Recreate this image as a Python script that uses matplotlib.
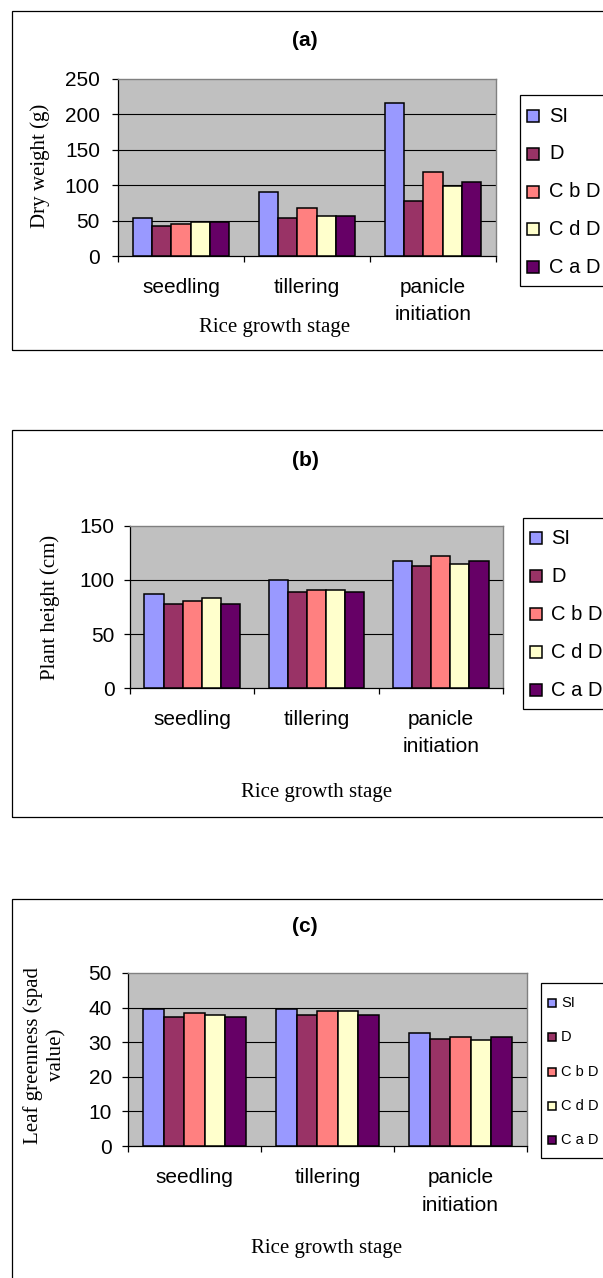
import matplotlib
matplotlib.use("Agg")
import matplotlib.pyplot as plt
from matplotlib.patches import Rectangle
import numpy as np

# ---------------- data ----------------
stages = ["seedling", "tillering", "panicle\ninitiation"]
series = ["SI", "D", "C b D", "C d D", "C a D"]
colors = ["#9999FF", "#993366", "#FF8080", "#FFFFCC", "#660066"]

dry_weight = {
    "SI":    [54, 91, 216],
    "D":     [42, 54, 77],
    "C b D": [45, 68, 119],
    "C d D": [48, 57, 99],
    "C a D": [48, 57, 105],
}
plant_height = {
    "SI":    [87, 100, 118],
    "D":     [78, 89, 113],
    "C b D": [81, 91, 122],
    "C d D": [83, 91, 115],
    "C a D": [78, 89, 118],
}
leaf_green = {
    "SI":    [39.5, 39.5, 32.6],
    "D":     [37.2, 37.9, 31.0],
    "C b D": [38.4, 38.9, 31.5],
    "C d D": [37.8, 38.9, 30.5],
    "C a D": [37.2, 37.9, 31.5],
}
yticks_a = [0, 50, 100, 150, 200, 250]
yticks_b = [0, 50, 100, 150]
yticks_c = [0, 10, 20, 30, 40, 50]

# ---------------- layout helpers ----------------
W, H = 603, 1278
fig = plt.figure(figsize=(W / 100, H / 100), dpi=100)
fig.patch.set_facecolor("white")

SANS = ["Liberation Sans", "DejaVu Sans"]
SERIF = ["Liberation Serif", "DejaVu Serif"]


def fx(x):
    return x / W


def fy(y):
    return 1 - y / H


def panel_box(left, top, right, bottom):
    fig.patches.append(Rectangle((fx(left), fy(bottom)), fx(right) - fx(left),
                                 (bottom - top) / H, transform=fig.transFigure,
                                 fill=False, edgecolor="black", linewidth=0.9))


def make_axes(l, t, r, b, data, yticks, label_pad, ytick_pad, linespacing):
    ax = fig.add_axes([fx(l), fy(b), fx(r) - fx(l), (b - t) / H])
    ax.set_facecolor("#C0C0C0")
    x = np.arange(len(stages))
    n = len(series)
    bw = 0.767 / n
    for i, s in enumerate(series):
        ax.bar(x + (i - (n - 1) / 2) * bw, data[s], width=bw, color=colors[i],
               edgecolor="black", linewidth=1.1, zorder=3)
    ax.set_xlim(-0.5, len(stages) - 0.5)
    ax.set_ylim(yticks[0], yticks[-1])
    ax.set_yticks(yticks)
    ax.set_yticklabels([str(v) for v in yticks], family=SANS, fontsize=15)
    ax.set_xticks(x)
    ax.set_xticklabels(stages, family=SANS, fontsize=15)
    for lbl in ax.get_xticklabels():
        lbl.set_linespacing(linespacing)
    ax.set_xticks(np.arange(len(stages) + 1) - 0.5, minor=True)
    ax.tick_params(axis="x", which="major", length=0, pad=label_pad)
    ax.tick_params(axis="x", which="minor", length=4.5, width=0.9, direction="out",
                   color="black")
    ax.tick_params(axis="y", length=4, width=0.9, direction="out", pad=ytick_pad,
                   color="black")
    for yv in yticks[1:-1]:
        ax.axhline(yv, color="black", linewidth=0.8, zorder=1)
    ax.spines["left"].set_color("black")
    ax.spines["bottom"].set_color("black")
    ax.spines["left"].set_linewidth(0.9)
    ax.spines["bottom"].set_linewidth(0.9)
    ax.spines["top"].set_color("#808080")
    ax.spines["right"].set_color("#808080")
    ax.spines["top"].set_linewidth(1.0)
    ax.spines["right"].set_linewidth(1.0)
    return ax


def legend(left, top, bottom, first_y, step, msize, text_x, fontsize):
    fig.patches.append(Rectangle((fx(left), fy(bottom)), fx(700) - fx(left),
                                 (bottom - top) / H, transform=fig.transFigure,
                                 facecolor="white", edgecolor="black", linewidth=0.9))
    mx = left + 7
    for i, s in enumerate(series):
        yc = first_y + i * step
        fig.patches.append(Rectangle((fx(mx), fy(yc + msize / 2)), msize / W, msize / H,
                                     transform=fig.transFigure, facecolor=colors[i],
                                     edgecolor="black", linewidth=1.1))
        fig.text(fx(text_x), fy(yc), s, family=SANS, fontsize=fontsize,
                 ha="left", va="center")


# ---------------- panel (a) ----------------
panel_box(12, 11, 700, 350)
make_axes(118, 79, 496, 256, dry_weight, yticks_a, label_pad=16, ytick_pad=9,
          linespacing=1.55)
fig.text(fx(305), fy(40), "(a)", family=SANS, fontsize=15, fontweight="bold",
         ha="center", va="center")
fig.text(fx(40), fy(166), "Dry weight (g)", family=SERIF, fontsize=15,
         rotation=90, ha="center", va="center")
fig.text(fx(275), fy(328), "Rice growth stage", family=SERIF, fontsize=15,
         ha="center", va="center")
legend(520, 95, 286, 116, 37.8, 12, 549, 14.5)

# ---------------- panel (b) ----------------
panel_box(12, 430, 700, 817)
make_axes(130, 526, 503, 688, plant_height, yticks_b, label_pad=16, ytick_pad=7,
          linespacing=1.5)
fig.text(fx(305), fy(460), "(b)", family=SANS, fontsize=15, fontweight="bold",
         ha="center", va="center")
fig.text(fx(50), fy(607), "Plant height (cm)", family=SERIF, fontsize=15,
         rotation=90, ha="center", va="center")
fig.text(fx(317), fy(792), "Rice growth stage", family=SERIF, fontsize=15,
         ha="center", va="center")
legend(523, 518, 709, 538, 38, 12, 551, 14.5)

# ---------------- panel (c) ----------------
panel_box(12, 899, 700, 1300)
make_axes(128, 973, 527, 1146, leaf_green, yticks_c, label_pad=16, ytick_pad=7.5,
          linespacing=1.6)
fig.text(fx(305), fy(927), "(c)", family=SANS, fontsize=15, fontweight="bold",
         ha="center", va="center")
fig.text(fx(45), fy(1055), "Leaf greenness (spad\nvalue)", family=SERIF, fontsize=15,
         rotation=90, ha="center", va="center", multialignment="center",
         linespacing=1.3)
fig.text(fx(327), fy(1248), "Rice growth stage", family=SERIF, fontsize=15,
         ha="center", va="center")
legend(541, 983, 1158, 1003, 34.3, 8, 561, 10.5)

fig.savefig("out.png", dpi=100)
